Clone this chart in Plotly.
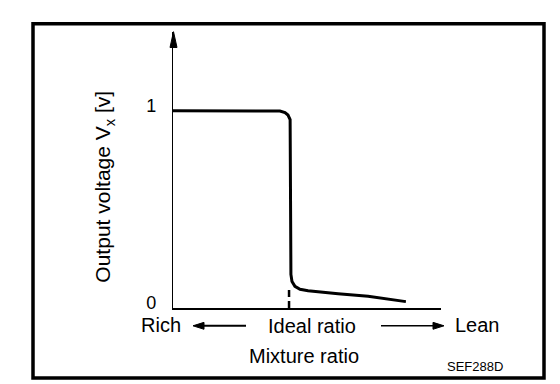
import plotly.graph_objects as go

# ---- data (schematic O2 sensor output vs mixture ratio) ----
curve_x = [0.0, 0.354, 0.399, 0.418, 0.429, 0.437, 0.438, 0.438, 0.440, 0.444,
           0.455, 0.474, 0.504, 0.616, 0.728, 0.869]
curve_y = [1.0, 1.0, 0.998, 0.99, 0.978, 0.955, 0.77, 0.27, 0.17, 0.135,
           0.11, 0.095, 0.0875, 0.0725, 0.06, 0.0325]
ideal_x = [0.433, 0.433]
ideal_y = [0.0, 0.1]
ytick_vals = [0, 1]
ytick_text = ["0", "1"]
x_labels = ["Rich", "Ideal ratio", "Lean"]
x_title = "Mixture ratio"
y_title = "Output voltage V<sub>x</sub> [v]"
code_label = "SEF288D"

W, H = 560, 384
FONT = "Liberation Sans, Arial, Helvetica, sans-serif"


def px(x, y):
    return x / W, 1 - y / H


fig = go.Figure()
fig.add_trace(go.Scatter(x=curve_x, y=curve_y, mode="lines",
                         line=dict(color="black", width=3), hoverinfo="skip"))
fig.add_trace(go.Scatter(x=ideal_x, y=ideal_y, mode="lines",
                         line=dict(color="black", width=2.5, dash="7px,4px"),
                         hoverinfo="skip"))

shapes = []
# outer frame
x0, y0 = px(25, 16)
x1, y1 = px(536, 375)
shapes.append(dict(type="rect", xref="paper", yref="paper", x0=x0, y0=y1, x1=x1, y1=y0,
                   line=dict(color="black", width=3.5)))


def tri(points):
    pts = [px(a, b) for a, b in points]
    d = "M" + " L".join(f"{a},{b}" for a, b in pts) + " Z"
    return dict(type="path", xref="paper", yref="paper", path=d,
                fillcolor="black", line=dict(color="black", width=1))


def seg(xa, ya, xb, yb, w):
    a, b = px(xa, ya)
    c, d = px(xb, yb)
    return dict(type="line", xref="paper", yref="paper", x0=a, y0=b, x1=c, y1=d,
                line=dict(color="black", width=w))


# y axis arrowhead
shapes.append(tri([(165.5, 24), (162, 40), (169, 40)]))
# Rich arrow (left)
shapes.append(seg(192, 322, 238, 322, 2))
shapes.append(tri([(185, 322), (196, 318.5), (196, 325.5)]))
# Lean arrow (right)
shapes.append(seg(373, 322, 428, 322, 1.6))
shapes.append(tri([(436, 322), (425, 318.5), (425, 325.5)]))

annotations = []
fnt = dict(family=FONT, size=20, color="black")
for text, (cx, cy) in zip(x_labels, [(153, 321), (304, 322), (469, 321)]):
    ax_, ay_ = px(cx, cy)
    annotations.append(dict(text=text, x=ax_, y=ay_, xref="paper", yref="paper",
                            showarrow=False, font=fnt, xanchor="center", yanchor="middle"))
ax_, ay_ = px(296, 353)
annotations.append(dict(text=x_title, x=ax_, y=ay_, xref="paper", yref="paper",
                        showarrow=False, font=fnt, xanchor="center", yanchor="middle"))
ax_, ay_ = px(467, 363)
annotations.append(dict(text=code_label, x=ax_, y=ay_, xref="paper", yref="paper",
                        showarrow=False, font=dict(family=FONT, size=13, color="black"),
                        xanchor="center", yanchor="middle"))
ax_, ay_ = px(96, 181)
annotations.append(dict(text=y_title, x=ax_, y=ay_, xref="paper", yref="paper",
                        showarrow=False, textangle=-90,
                        font=dict(family=FONT, size=21, color="black"),
                        xanchor="center", yanchor="middle"))

fig.update_layout(
    width=W, height=H,
    margin=dict(l=0, r=0, t=0, b=0),
    paper_bgcolor="white", plot_bgcolor="white",
    showlegend=False,
    shapes=shapes,
    annotations=annotations,
    xaxis=dict(domain=[165 / W, 433 / W], range=[0, 1], showline=True,
               linecolor="black", linewidth=2, showgrid=False, zeroline=False,
               showticklabels=False, ticks="", fixedrange=True),
    yaxis=dict(domain=[1 - 304 / H, 1 - 24 / H], range=[0, 1.4], showline=True,
               linecolor="black", linewidth=1.3, showgrid=False, zeroline=False,
               tickmode="array", tickvals=ytick_vals, ticktext=ytick_text,
               ticks="", ticklabelstandoff=12, ticklabelshift=-5,
               tickfont=dict(family=FONT, size=18, color="black"), fixedrange=True),
)

fig.write_html("out.html")
